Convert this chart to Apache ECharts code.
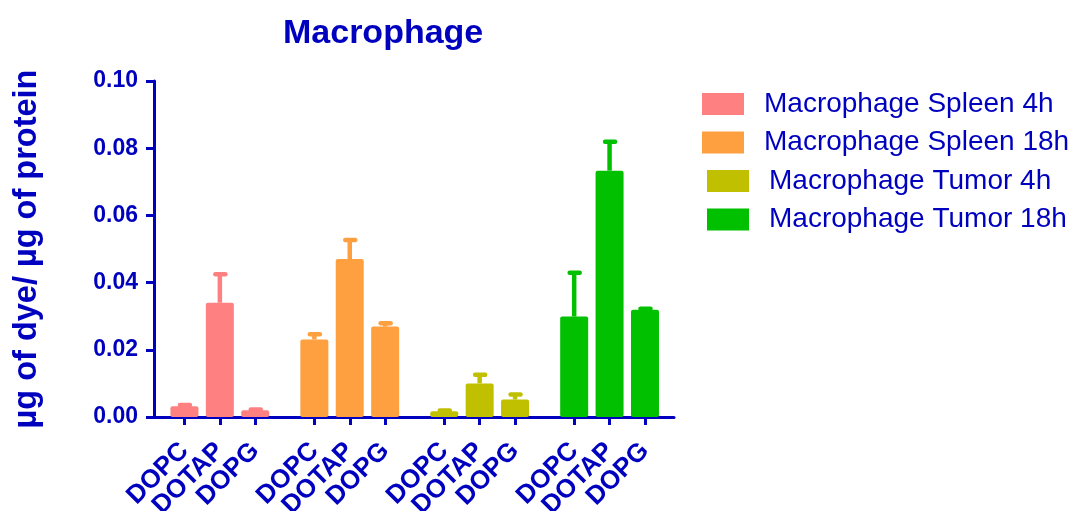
<!DOCTYPE html>
<html>
<head>
<meta charset="utf-8">
<title>Macrophage</title>
<script src="https://cdn.jsdelivr.net/npm/echarts@6/dist/echarts.min.js"></script>
<style>
  html, body { margin: 0; padding: 0; background: #ffffff; }
  #chart { width: 1072px; height: 511px; }
</style>
</head>
<body>
<div id="chart"></div>
<script>
// Lipid formulations within each group
const categories = ['DOPC', 'DOTAP', 'DOPG'];

// One series per tissue / time point
const seriesNames = [
  'Macrophage Spleen 4h',
  'Macrophage Spleen 18h',
  'Macrophage Tumor 4h',
  'Macrophage Tumor 18h'
];

// Mean uptake (µg dye / µg protein)
const spleen4h  = [0.0032, 0.0340, 0.0020];
const spleen18h = [0.0231, 0.0470, 0.0269];
const tumor4h   = [0.0017, 0.0100, 0.0052];
const tumor18h  = [0.0299, 0.0733, 0.0319];

// Error (upper bar) for each mean
const spleen4hErr  = [0.0004, 0.0085, 0.0002];
const spleen18hErr = [0.0015, 0.0057, 0.0010];
const tumor4hErr   = [0.0002, 0.0026, 0.0015];
const tumor18hErr  = [0.0130, 0.0086, 0.0003];

// Y axis ticks
const yTicks = [0.00, 0.02, 0.04, 0.06, 0.08, 0.10];

const means = [spleen4h, spleen18h, tumor4h, tumor18h];
const errs = [spleen4hErr, spleen18hErr, tumor4hErr, tumor18hErr];
const colors = ['#FF8080', '#FFA040', '#C0C000', '#00C000'];

const BLUE = '#0000BF';
const FONT = "'Liberation Sans', Arial, Helvetica, sans-serif";

// Bars are placed on a numeric x scale: one unit per bar, with a wider gap between groups
const GROUP_STEP = 3.67;
const posOf = (g, i) => g * GROUP_STEP + i;
const positions = [];
means.forEach((m, g) => m.forEach((_, i) => positions.push(posOf(g, i))));
const xMin = -0.86;
const xMax = posOf(means.length - 1, categories.length - 1) + 0.82;

const series = [];
means.forEach((m, g) => {
  series.push({
    name: seriesNames[g],
    type: 'bar',
    barWidth: 28,
    barGap: '-100%',
    itemStyle: { color: colors[g], borderRadius: 2 },
    data: m.map((v, i) => [posOf(g, i), v]),
    z: 2
  });
});
means.forEach((m, g) => {
  series.push({
    name: seriesNames[g] + ' error',
    type: 'custom',
    z: 3,
    data: m.map((v, i) => [posOf(g, i), v, errs[g][i]]),
    renderItem: function (params, api) {
      const x = api.value(0), v = api.value(1), e = api.value(2);
      const base = api.coord([x, v]);
      const top = api.coord([x, v + e]);
      const c = colors[g];
      return {
        type: 'group',
        children: [
          { type: 'line', shape: { x1: base[0], y1: base[1], x2: top[0], y2: top[1] },
            style: { stroke: c, lineWidth: 4.5 } },
          { type: 'line', shape: { x1: top[0] - 4.5, y1: top[1], x2: top[0] + 5.5, y2: top[1] },
            style: { stroke: c, lineWidth: 4.5, lineCap: 'round' } }
        ]
      };
    }
  });
});

// Main x axis: line and ticks. One extra label-only axis per formulation,
// so the tightly packed rotated labels are never culled against each other.
const xAxes = [{
  type: 'value',
  min: xMin,
  max: xMax,
  position: 'bottom',
  splitLine: { show: false },
  axisLine: { show: true, onZero: false, lineStyle: { color: BLUE, width: 3 } },
  axisTick: { show: true, customValues: positions, length: 8, lineStyle: { color: BLUE, width: 3 } },
  axisLabel: { show: false }
}];
categories.forEach((name, i) => {
  const vals = means.map((_, g) => posOf(g, i));
  xAxes.push({
    type: 'value',
    min: xMin,
    max: xMax,
    position: 'bottom',
    offset: 0,
    splitLine: { show: false },
    axisLine: { show: false, onZero: false },
    axisTick: { show: false },
    axisLabel: {
      customValues: vals,
      rotate: 45,
      margin: 30,
      showMinLabel: true,
      showMaxLabel: true,
      color: BLUE,
      fontSize: 26,
      fontWeight: 'bold',
      fontFamily: FONT,
      formatter: () => name
    }
  });
});

const legendText = { color: BLUE, fontSize: 28, fontFamily: FONT, padding: [0, 0, 0, 15] };
const legendBase = {
  orient: 'vertical',
  padding: 0,
  itemWidth: 42,
  itemHeight: 22,
  itemGap: 10.5,
  icon: 'rect',
  selectedMode: false,
  textStyle: legendText
};

const option = {
  animation: false,
  backgroundColor: '#ffffff',
  title: {
    text: 'Macrophage',
    left: 283,
    top: 17,
    padding: 0,
    textStyle: { color: BLUE, fontSize: 34, fontWeight: 'bold', fontFamily: FONT }
  },
  legend: [
    Object.assign({}, legendBase, { data: seriesNames.slice(0, 2), left: 702, top: 90 }),
    Object.assign({}, legendBase, { data: seriesNames.slice(2, 4), left: 707, top: 167 })
  ],
  grid: { left: 154, right: 398, top: 81, bottom: 94, containLabel: false, outerBoundsMode: 'none' },
  xAxis: xAxes,
  yAxis: {
    type: 'value',
    min: 0,
    max: 0.1,
    interval: 0.02,
    name: 'µg of dye/ µg of protein',
    nameLocation: 'middle',
    nameGap: 110,
    nameTextStyle: { color: BLUE, fontSize: 32.5, fontWeight: 'bold', fontFamily: FONT },
    splitLine: { show: false },
    axisLine: { show: true, onZero: false, lineStyle: { color: BLUE, width: 3 } },
    axisTick: { show: true, length: 8, lineStyle: { color: BLUE, width: 3 } },
    axisLabel: {
      margin: 16,
      showMinLabel: true,
      showMaxLabel: true,
      color: BLUE,
      fontSize: 23,
      fontWeight: 'bold',
      fontFamily: FONT,
      customValues: yTicks,
      formatter: v => v.toFixed(2)
    }
  },
  series: series
};

const chart = echarts.init(document.getElementById('chart'), null, { renderer: 'canvas' });
chart.setOption(option);
</script>
</body>
</html>
